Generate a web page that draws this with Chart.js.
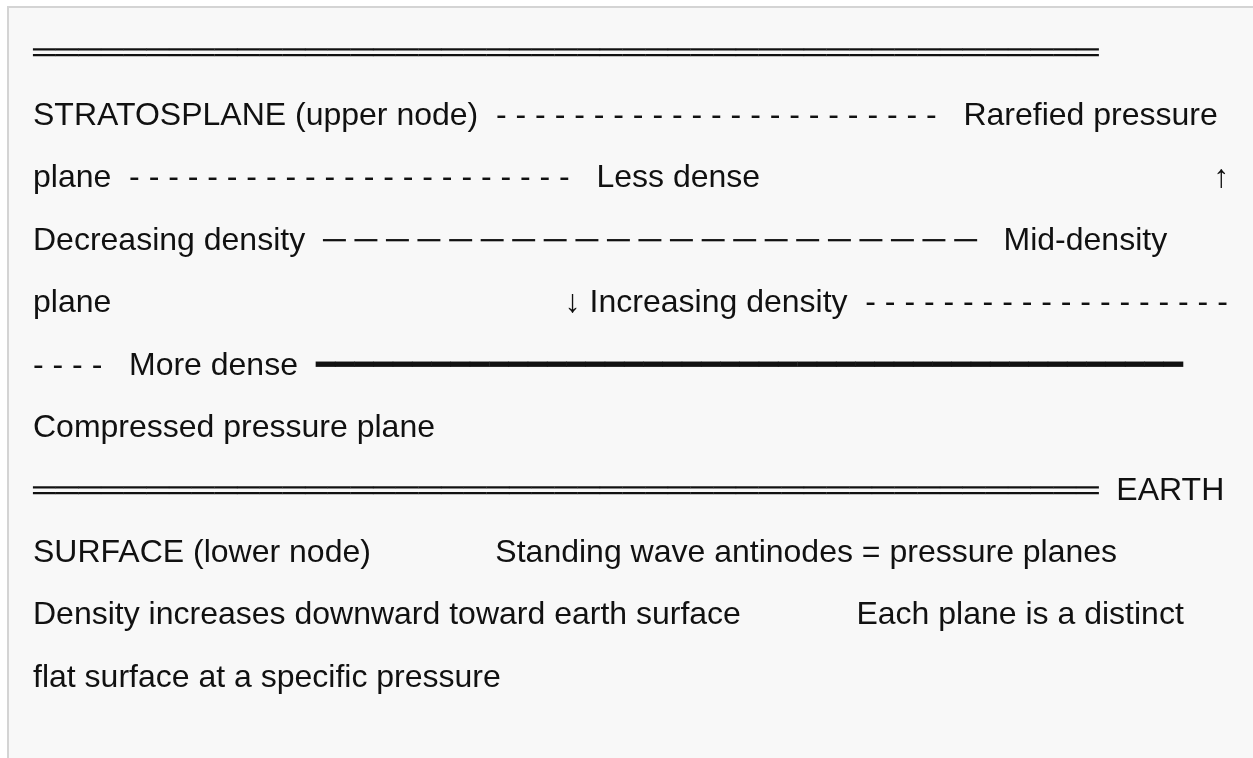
<!DOCTYPE html>
<html>
<head>
<meta charset="utf-8">
<script src="https://cdn.jsdelivr.net/npm/chart.js@4.4.1/dist/chart.umd.min.js"></script>
<style>
  html, body { margin: 0; padding: 0; background: #ffffff; width: 1253px; height: 758px; overflow: hidden; }
  #box { position: absolute; left: 7px; top: 6px; width: 1400px; height: 900px; background: #f8f8f8;
         border-left: 2px solid #d4d4d4; border-top: 2px solid #d4d4d4; }
  #c { position: absolute; left: 0; top: 0; }
</style>
</head>
<body>
<div id="box"></div>
<canvas id="c" width="1253" height="758"></canvas>
<script>
// ---- content (text lines of the diagram, in reading order) ----
const rep = (s, n) => s.repeat(n);
const sp = n => ' '.repeat(n);
const lineTexts = [
  rep('═', 47),
  'STRATOSPLANE (upper node)' + sp(2) + rep('- ', 22) + '-' + sp(3) + 'Rarefied pressure',
  'plane' + sp(2) + rep('- ', 22) + '-' + sp(3) + 'Less dense' + sp(51) + '↑',
  'Decreasing density' + sp(2) + rep('─ ', 20) + '─' + sp(3) + 'Mid-density',
  'plane' + sp(51) + '↓ Increasing density' + sp(2) + rep('- ', 18) + '-',
  rep('- ', 3) + '-' + sp(3) + 'More dense' + sp(2) + rep('━', 45),
  'Compressed pressure plane',
  rep('═', 47) + sp(2) + 'EARTH',
  'SURFACE (lower node)' + sp(14) + 'Standing wave antinodes = pressure planes',
  'Density increases downward toward earth surface' + sp(13) + 'Each plane is a distinct',
  'flat surface at a specific pressure'
];
const lineIndex = lineTexts.map((_, i) => i);

const textPlugin = {
  id: 'diagramText',
  afterDraw(chart) {
    const ctx = chart.ctx;
    const ys = chart.scales.y, xs = chart.scales.x;
    ctx.save();
    ctx.fillStyle = '#111111';
    ctx.font = '32px "Liberation Sans", Arial, "DejaVu Sans", sans-serif';
    ctx.textBaseline = 'alphabetic';
    ctx.textAlign = 'left';
    lineIndex.forEach(i => {
      ctx.fillText(lineTexts[i], xs.getPixelForValue(0), ys.getPixelForValue(i));
    });
    ctx.restore();
  }
};

new Chart(document.getElementById('c'), {
  type: 'scatter',
  data: { datasets: [{ data: lineIndex.map(i => ({ x: 0, y: i })), pointRadius: 0, showLine: false }] },
  options: {
    responsive: false,
    animation: false,
    events: [],
    layout: { padding: { left: 33, right: 0, top: 0, bottom: 0 } },
    plugins: { legend: { display: false }, tooltip: { enabled: false }, title: { display: false } },
    scales: {
      x: { type: 'linear', display: false, min: 0, max: 1 },
      y: { type: 'linear', display: false, reverse: true, min: -1, max: 11.14 }
    }
  },
  plugins: [textPlugin]
});
</script>
</body>
</html>
